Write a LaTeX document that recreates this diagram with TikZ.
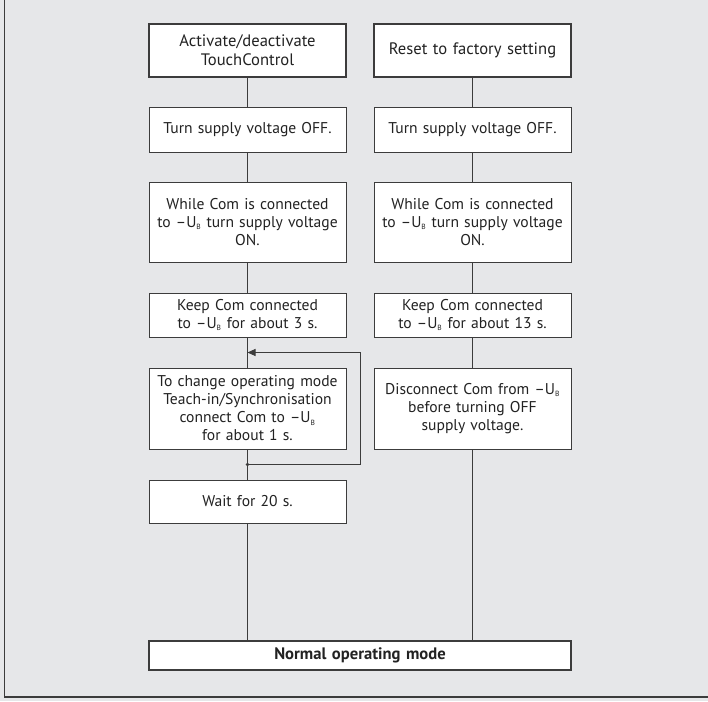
\documentclass[tikz,border=0pt]{standalone}
\usepackage{fontspec}
\setmainfont{PT Sans}
\usetikzlibrary{calc,arrows.meta}
\definecolor{panelgray}{HTML}{E6E7E9}
\definecolor{linegray}{HTML}{3C3C3C}
\definecolor{textgray}{HTML}{222222}
\tikzset{
  stepbox/.style={draw=linegray,fill=white,line width=0.9pt,minimum width=197pt,
    text width=196pt,align=center,inner sep=0pt,text=textgray,
    font=\fontsize{15.6}{18}\selectfont},
  titlebox/.style={stepbox,line width=1.7pt,font=\fontsize{16.6}{19}\selectfont},
  flowline/.style={draw=linegray,line width=0.9pt},
}
\newcommand{\UB}{--U\textsubscript{\fontsize{7.5}{7.5}\selectfont B}}

\begin{document}
\begin{tikzpicture}[x=1pt,y=-1pt]
  \fill[panelgray] (0,0) rectangle (708,701);
  \useasboundingbox (0,0) rectangle (708,701);
  \draw[linegray,line width=1.8pt] (4.5,0) -- (4.5,697) -- (708,697);

  % left column
  \node[titlebox,minimum height=53pt] (ltitle)  at (247.5,50.5)  {Activate/deactivate\\TouchControl};
  \node[stepbox,minimum height=45pt]  (loff)    at (247.5,129.5) {Turn supply voltage OFF.};
  \node[stepbox,minimum height=80pt]  (lon)     at (247.5,222)   {While Com is connected\\to \UB{} turn supply voltage\\ON.};
  \node[stepbox,minimum height=44pt]  (lkeep)   at (247.5,315)   {Keep Com connected\\to \UB{} for about 3 s.};
  \node[stepbox,minimum height=81pt]  (lchange) at (247.5,408.5) {To change operating mode\\Teach-in/Synchronisation\\connect Com to \UB\\for about 1 s.};
  \node[stepbox,minimum height=43pt]  (lwait)   at (247.5,501.5) {Wait for 20 s.};

  % right column
  \node[titlebox,minimum height=53pt] (rtitle)  at (472.5,50.5)  {Reset to factory setting};
  \node[stepbox,minimum height=45pt]  (roff)    at (472.5,129.5) {Turn supply voltage OFF.};
  \node[stepbox,minimum height=80pt]  (ron)     at (472.5,222)   {While Com is connected\\to \UB{} turn supply voltage\\ON.};
  \node[stepbox,minimum height=44pt]  (rkeep)   at (472.5,315)   {Keep Com connected\\to \UB{} for about 13 s.};
  \node[stepbox,minimum height=81pt]  (rfree)   at (472.5,408.5) {Disconnect Com from \UB\\before turning OFF\\supply voltage.};

  \node[titlebox,minimum width=422pt,minimum height=29pt,text width=410pt] (normal) at (360,655.5)
    {\bfseries Normal operating mode};

  % connectors
  \draw[flowline] (ltitle) -- (loff);
  \draw[flowline] (loff) -- (lon);
  \draw[flowline] (lon) -- (lkeep);
  \draw[flowline] (lkeep) -- (lchange);
  \draw[flowline] (lchange) -- (lwait);
  \draw[flowline] (lwait.south) -- (lwait.south |- normal.north);
  \draw[flowline] (rtitle) -- (roff);
  \draw[flowline] (roff) -- (ron);
  \draw[flowline] (ron) -- (rkeep);
  \draw[flowline] (rkeep) -- (rfree);
  \draw[flowline] (rfree.south) -- (rfree.south |- normal.north);

  % repeat loop
  \coordinate (split) at ($(lchange.south)!0.5!(lwait.north)$);
  \coordinate (merge) at ($(lkeep.south)!0.5!(lchange.north)$);
  \draw[flowline,-{Triangle[length=8pt,width=7pt]}] (split) -| ($(lchange.east)+(14,0)$) |- (merge);
  \fill[linegray] (split) circle (1.8pt);
\end{tikzpicture}
\end{document}
